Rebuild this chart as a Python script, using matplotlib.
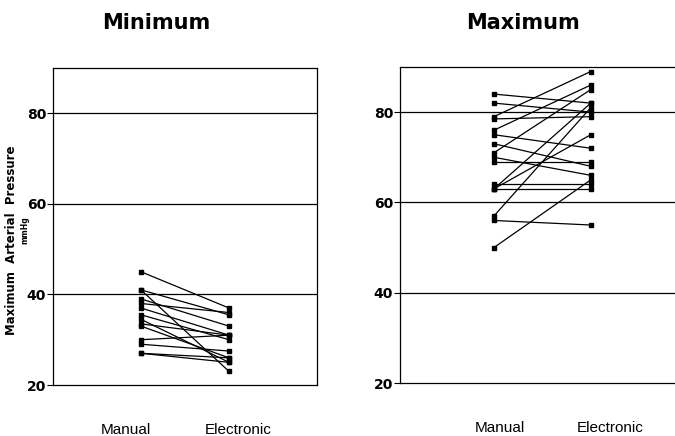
import matplotlib
matplotlib.use("Agg")
import matplotlib.pyplot as plt

# ---- data ----
categories = ["Manual", "Electronic"]
min_manual = [45, 41, 41, 39, 38, 37, 35.5, 34.5, 33.5, 33, 30, 29, 27, 27]
min_electronic = [37, 23, 35.5, 33, 36, 31, 30, 25, 31, 26, 31, 27.5, 26, 25]
max_manual = [84, 82, 79, 78.5, 76, 75, 73, 71, 70, 69, 64, 63, 63, 63, 57, 56, 50]
max_electronic = [82, 80, 89, 79, 86, 72, 68, 85, 66, 69, 64, 63, 82, 75, 81, 55, 65]
yticks = [20, 40, 60, 80]
titles = ["Minimum", "Maximum"]
ylabel = "Maximum  Arterial  Pressure"
ylabel2 = "mmHg"

fig = plt.figure(figsize=(6.75, 4.36), dpi=100)
ax1 = fig.add_axes([53/675, 1-385/436, 264/675, 317/436])
ax2 = fig.add_axes([400/675, 1-383/436, 276/675, 316/436])

def draw(ax, man, ele, xlim, label_shift):
    for a, b in zip(man, ele):
        ax.plot([1, 2], [a, b], color="black", lw=0.9, marker="s", ms=3,
                mfc="black", mec="black", zorder=3)
    for y in [40, 60, 80]:
        ax.axhline(y, color="black", lw=0.9, zorder=1)
    ax.set_ylim(20, 90)
    ax.set_xlim(*xlim)
    ax.set_yticks(yticks)
    ax.set_yticklabels([str(t) for t in yticks], fontweight="bold", fontsize=10)
    ax.set_xticks([1 + label_shift[0], 2 + label_shift[1]])
    ax.set_xticklabels(categories, fontsize=11, fontfamily="Liberation Sans")
    ax.tick_params(axis="x", length=0, pad=27)
    ax.tick_params(axis="y", length=4, width=0.8, pad=1)
    for s in ax.spines.values():
        s.set_linewidth(0.9)

draw(ax1, min_manual, min_electronic, (0, 3), (-0.17, 0.1))
draw(ax2, max_manual, max_electronic, (0.03, 2.88), (0.06, 0.2))
ax2.spines["right"].set_visible(False)

fig.text(156/675, 1-23/436, titles[0], ha="center", va="center", fontsize=15,
         fontweight="bold", fontfamily="DejaVu Sans")
fig.text(523/675, 1-23/436, titles[1], ha="center", va="center", fontsize=15,
         fontweight="bold", fontfamily="DejaVu Sans")
fig.text(12/675, 1-240/436, ylabel, rotation=90, ha="center", va="center",
         fontsize=8.5, fontweight="bold")
fig.text(25/675, 1-230/436, ylabel2, rotation=90, ha="center", va="center",
         fontsize=5.5, fontweight="bold")

fig.savefig("out.png", dpi=100)
